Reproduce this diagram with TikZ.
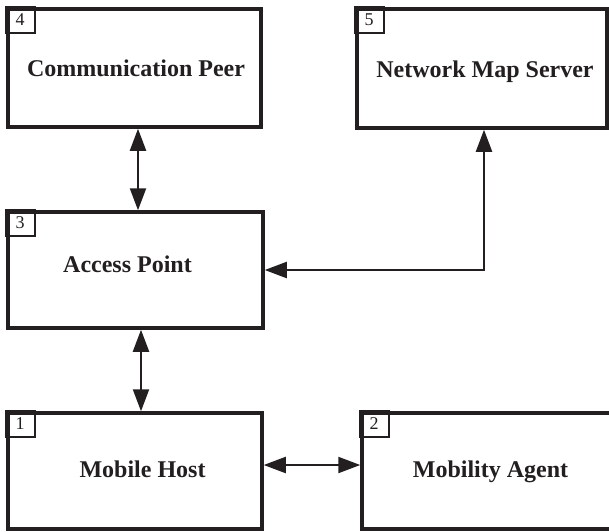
\documentclass[tikz,border=0pt]{standalone}
\usepackage{fontspec}
\setmainfont{Liberation Serif}
\usetikzlibrary{arrows.meta}
\definecolor{ink}{RGB}{35,31,32}
\tikzset{
  mainbox/.style={draw=ink, line width=3.5pt, rectangle, inner sep=0pt},
  numbox/.style={draw=ink, line width=2pt, rectangle, inner sep=0pt,
    minimum width=29pt, minimum height=26pt, anchor=north west,
    font=\fontsize{18}{18}\selectfont, text=ink},
  boxtext/.style={anchor=base, inner sep=0pt, font=\fontsize{24}{24}\selectfont\bfseries, text=ink},
  conn/.style={draw=ink, line width=2.2pt, {Triangle[length=22pt,width=16pt]}-{Triangle[length=22pt,width=16pt]}}
}
\begin{document}
\begin{tikzpicture}[x=1pt,y=-1pt]
\useasboundingbox (0,0) rectangle (609,531);
\clip (0,0) rectangle (609,531);
\fill[white] (0,0) rectangle (609,531);
% boxes
\node[mainbox, minimum width=253pt, minimum height=118pt] (b4) at (134.5,68) {};
\node[mainbox, minimum width=250pt, minimum height=119pt] (b5) at (482,68.5) {};
\node[mainbox, minimum width=255pt, minimum height=116pt] (b3) at (135.5,270) {};
\node[mainbox, minimum width=254pt, minimum height=116pt] (b1) at (135,471) {};
\node[mainbox, minimum width=252pt, minimum height=116pt] (b2) at (488,471) {};
% number boxes
\node[numbox] (n4) at ([xshift=-1.75pt,yshift=1.75pt]b4.north west) {4};
\node[numbox] (n5) at ([xshift=-1.75pt,yshift=1.75pt]b5.north west) {5};
\node[numbox] (n3) at ([xshift=-1.75pt,yshift=1.75pt]b3.north west) {3};
\node[numbox] (n1) at ([xshift=-1.75pt,yshift=1.75pt]b1.north west) {1};
\node[numbox] (n2) at ([xshift=-1.75pt,yshift=1.75pt]b2.north west) {2};
% texts
\node[boxtext] (t4) at (136,76) {Communication Peer};
\node[boxtext] (t5) at (485,77) {Network Map Server};
\node[boxtext] (t3) at (127.5,272) {Access Point};
\node[boxtext] (t1) at (142.5,477) {Mobile Host};
\node[boxtext] (t2) at (490.5,477) {Mobility Agent};
% connectors
\coordinate (c43t) at (138,0);
\draw[conn] (b4.south -| c43t) -- (b3.north -| c43t);
\coordinate (c31t) at (141,0);
\draw[conn] (b3.south -| c31t) -- (b1.north -| c31t);
\coordinate (c12t) at (0,465);
\draw[conn] (b1.east |- c12t) -- (b2.west |- c12t);
\coordinate (bend) at (484,270);
\draw[conn, line join=miter] (b5.south -| bend) -- (bend) -- (b3.east |- bend);
\end{tikzpicture}
\end{document}
